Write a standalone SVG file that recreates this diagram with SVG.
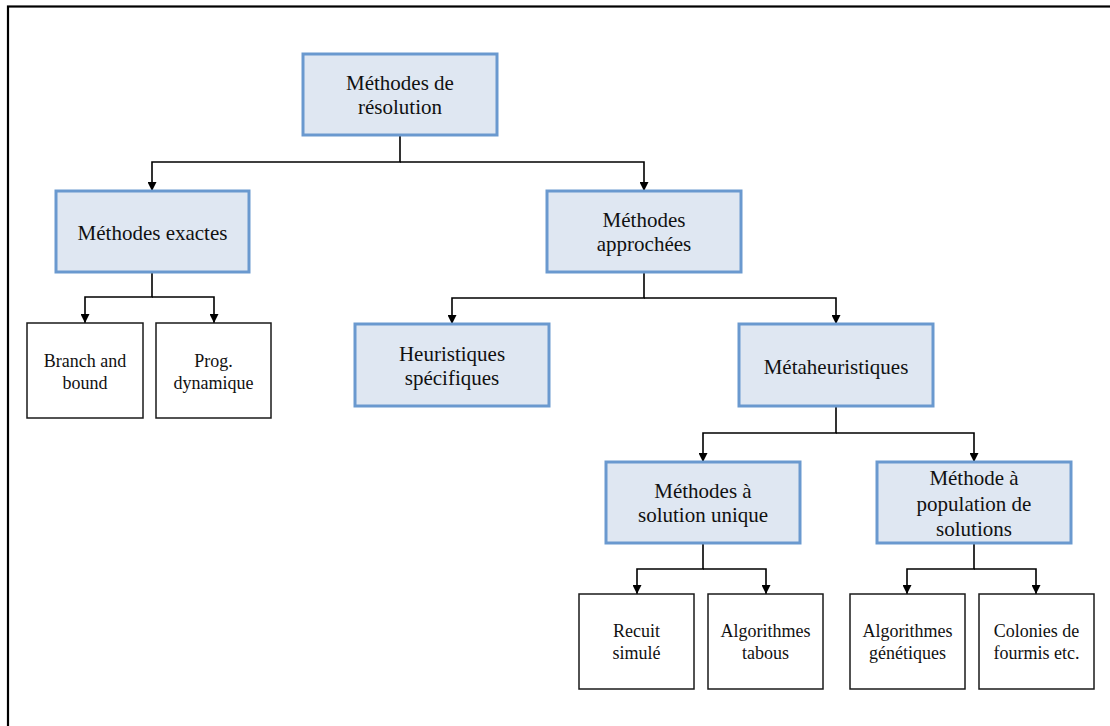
<svg xmlns="http://www.w3.org/2000/svg" width="1110" height="726" viewBox="0 0 1110 726">
<style>
.blue{fill:#dfe7f2;stroke:#6a99cf;stroke-width:3}
.plain{fill:#ffffff;stroke:#1a1a1a;stroke-width:1.5}
text{font-family:'Liberation Serif','Times New Roman',Times,'DejaVu Serif',serif;fill:#111;text-anchor:middle}
.big{font-size:21px}
.sm{font-size:18px}
.con{fill:none;stroke:#000;stroke-width:1.6;marker-end:url(#arr)}
</style>
<defs>
<marker id="arr" markerUnits="userSpaceOnUse" markerWidth="9" markerHeight="9" viewBox="0 0 9 9" refX="9" refY="4.5" orient="auto">
<path d="M0,0 L9,4.5 L0,9 z" fill="#000"/>
</marker>
</defs>
<rect x="8" y="6.5" width="1200" height="800" fill="#fff" stroke="#000" stroke-width="2.2"/>
<g id="connectors">
<path class="con" d="M400,135 V162 H152 V191"/>
<path class="con" d="M400,162 H644 V191"/>
<path class="con" d="M152,272 V297 H85 V323"/>
<path class="con" d="M152,297 H214 V323"/>
<path class="con" d="M644,272 V298 H452 V324"/>
<path class="con" d="M644,298 H836 V324"/>
<path class="con" d="M836,406 V433 H703 V462"/>
<path class="con" d="M836,433 H974 V462"/>
<path class="con" d="M703,543 V569 H637 V594"/>
<path class="con" d="M703,569 H766 V594"/>
<path class="con" d="M974,543 V569 H907 V594"/>
<path class="con" d="M974,569 H1036 V594"/>
</g>
<g id="root">
<rect class="blue" x="303" y="54" width="194" height="81"/>
<text class="big" font-family="Liberation Serif, serif" x="400" y="90">Méthodes de</text>
<text class="big" font-family="Liberation Serif, serif" x="400" y="114">résolution</text>
</g>
<g id="exactes">
<rect class="blue" x="56" y="191" width="193" height="81"/>
<text class="big" x="152.5" y="240">Méthodes exactes</text>
</g>
<g id="approchees">
<rect class="blue" x="547" y="191" width="194" height="81"/>
<text class="big" x="644" y="227">Méthodes</text>
<text class="big" x="644" y="251">approchées</text>
</g>
<g id="branch">
<rect class="plain" x="27" y="323" width="116" height="95"/>
<text class="sm" x="85" y="367">Branch and</text>
<text class="sm" x="85" y="389">bound</text>
</g>
<g id="prog">
<rect class="plain" x="156" y="323" width="115" height="95"/>
<text class="sm" x="213.5" y="367">Prog.</text>
<text class="sm" x="213.5" y="389">dynamique</text>
</g>
<g id="heuristiques">
<rect class="blue" x="355" y="324" width="194" height="82"/>
<text class="big" x="452" y="361">Heuristiques</text>
<text class="big" x="452" y="385">spécifiques</text>
</g>
<g id="meta">
<rect class="blue" x="739" y="324" width="194" height="82"/>
<text class="big" x="836" y="374">Métaheuristiques</text>
</g>
<g id="solution-unique">
<rect class="blue" x="606" y="462" width="194" height="81"/>
<text class="big" x="703" y="498">Méthodes à</text>
<text class="big" x="703" y="522">solution unique</text>
</g>
<g id="population">
<rect class="blue" x="877" y="462" width="194" height="81"/>
<text class="big" x="974" y="485">Méthode à</text>
<text class="big" x="974" y="510.5">population de</text>
<text class="big" x="974" y="536">solutions</text>
</g>
<g id="recuit">
<rect class="plain" x="579" y="594" width="115" height="95"/>
<text class="sm" x="636.5" y="637">Recuit</text>
<text class="sm" x="636.5" y="659">simulé</text>
</g>
<g id="tabous">
<rect class="plain" x="708" y="594" width="115" height="95"/>
<text class="sm" x="765.5" y="637">Algorithmes</text>
<text class="sm" x="765.5" y="659">tabous</text>
</g>
<g id="genetiques">
<rect class="plain" x="850" y="594" width="115" height="95"/>
<text class="sm" x="907.5" y="637">Algorithmes</text>
<text class="sm" x="907.5" y="659">génétiques</text>
</g>
<g id="colonies">
<rect class="plain" x="979" y="594" width="115" height="95"/>
<text class="sm" x="1036.5" y="637">Colonies de</text>
<text class="sm" x="1036.5" y="659">fourmis etc.</text>
</g>
</svg>
